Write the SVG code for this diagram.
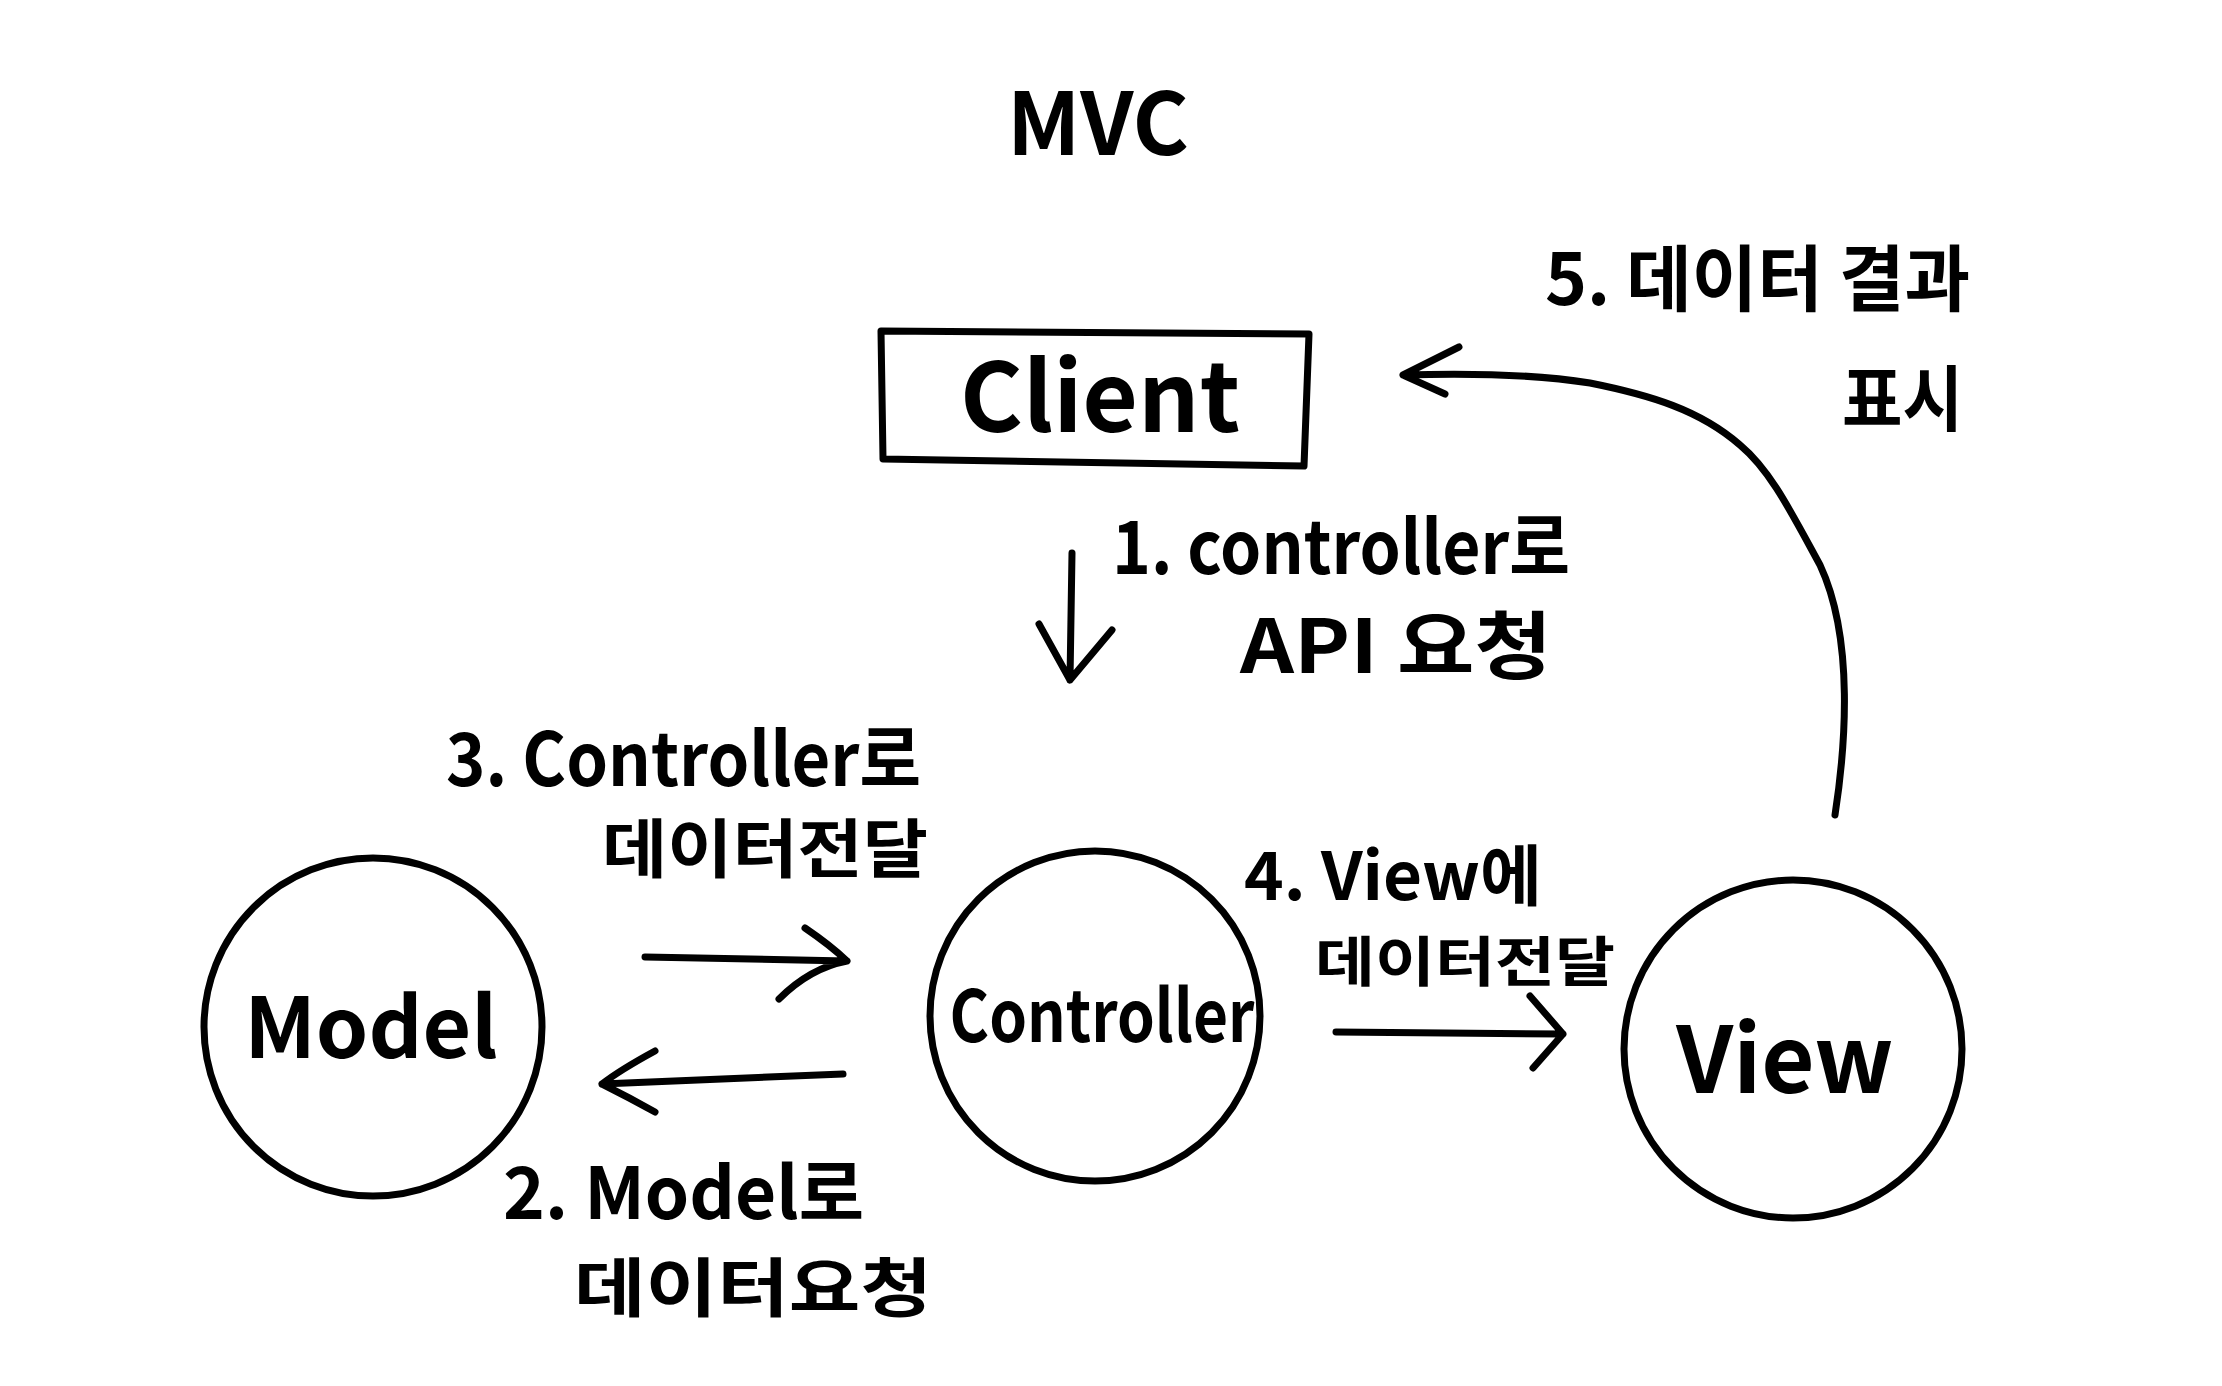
<svg xmlns="http://www.w3.org/2000/svg" width="2222" height="1386" viewBox="0 0 2222 1386">
<style>
.ln{fill:none;stroke:#000;stroke-width:7;stroke-linecap:round;stroke-linejoin:round}
.t{font-family:"Noto Sans CJK KR","Noto Sans",sans-serif;font-weight:700;fill:#000}
</style>
<rect width="2222" height="1386" fill="#fff"/>
<text class="t" x="1098" y="155" font-size="86" text-anchor="middle">MVC</text>
<g id="client">
<path class="ln" d="M881,331 L1309,334 L1304,466 L883,459 Z"/>
<text class="t" x="1100" y="432" font-size="96" text-anchor="middle" font-weight="500">Client</text>
</g>
<g id="model">
<circle class="ln" cx="373" cy="1027" r="169"/>
<text class="t" x="371" y="1058" font-size="84" text-anchor="middle">Model</text>
</g>
<g id="controller">
<circle class="ln" cx="1095" cy="1016" r="165"/>
<text class="t" x="1102" y="1042" font-size="72" text-anchor="middle" textLength="305" lengthAdjust="spacingAndGlyphs">Controller</text>
</g>
<g id="view">
<circle class="ln" cx="1793" cy="1049" r="169"/>
<text class="t" x="1785" y="1093" font-size="92" text-anchor="middle">View</text>
</g>
<g id="connectors">
<path class="ln" d="M1072,553 L1070,680 M1039,624 L1070,680 L1112,630"/>
<path class="ln" d="M645,957 L847,961 M805,928 Q830,945 847,961 Q810,968 779,999"/>
<path class="ln" d="M843,1074 L602,1084 M655,1051 Q620,1070 602,1084 Q630,1098 655,1112"/>
<path class="ln" d="M1336,1032 L1563,1034 M1530,996 L1563,1034 L1533,1068"/>
<path class="ln" d="M1835,815 C1845,750 1855,640 1820,565 C1790,510 1770,470 1740,445 C1700,410 1650,395 1590,383 C1540,375 1470,373 1403,375 M1459,347 L1403,375 L1445,394"/>
</g>
<g id="labels">
<text class="t" x="1112" y="574" font-size="74" textLength="458" lengthAdjust="spacingAndGlyphs">1. controller로</text>
<text class="t" x="1240" y="673" font-size="74" textLength="312" lengthAdjust="spacingAndGlyphs">API 요청</text>
<text class="t" x="446" y="786" font-size="74" textLength="475" lengthAdjust="spacingAndGlyphs">3. Controller로</text>
<text class="t" x="602" y="872" font-size="64" textLength="326" lengthAdjust="spacingAndGlyphs">데이터전달</text>
<text class="t" x="1244" y="900" font-size="66" textLength="298" lengthAdjust="spacingAndGlyphs">4. View에</text>
<text class="t" x="1315" y="982" font-size="54" textLength="300" lengthAdjust="spacingAndGlyphs">데이터전달</text>
<text class="t" x="503" y="1219" font-size="72" textLength="361" lengthAdjust="spacingAndGlyphs">2. Model로</text>
<text class="t" x="574" y="1311" font-size="64" textLength="358" lengthAdjust="spacingAndGlyphs">데이터요청</text>
<text class="t" x="1545" y="305" font-size="72" textLength="425" lengthAdjust="spacingAndGlyphs">5. 데이터 결과</text>
<text class="t" x="1842" y="425" font-size="72" textLength="121" lengthAdjust="spacingAndGlyphs">표시</text>
</g>
</svg>
